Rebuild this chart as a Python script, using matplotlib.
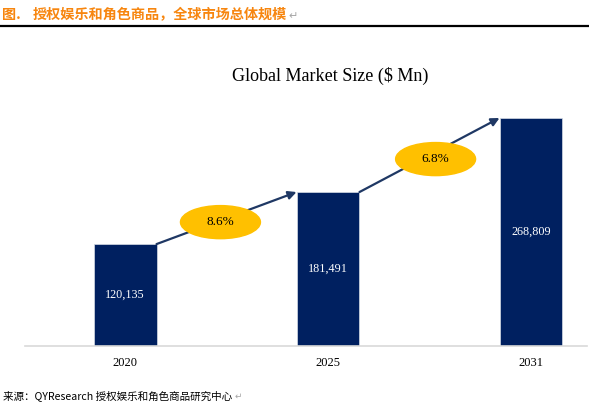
import matplotlib.pyplot as plt
from matplotlib.patches import Ellipse

plt.rcParams['font.family'] = ['Noto Sans CJK SC', 'DejaVu Sans']

years = ["2020", "2025", "2031"]
market_size = [120135, 181491, 268809]
cagr_labels = ["8.6%", "6.8%"]

header_no = "图."
header = "授权娱乐和角色商品，全球市场总体规模"
chart_title = "Global Market Size ($ Mn)"
source = "来源：QYResearch 授权娱乐和角色商品研究中心"

bar_color = "#002060"
arrow_color = "#1F3864"
bubble_color = "#FFC000"
header_color = "#F7860F"
serif = "Liberation Serif"

fig = plt.figure(figsize=(5.89, 4.04), dpi=100)
W, H = 589, 404

# header + rule
fig.text(2 / W, 1 - 15 / H, header_no, color=header_color, fontsize=10.2,
         fontweight="bold", va="center", ha="left")
fig.text(33 / W, 1 - 15 / H, header, color=header_color, fontsize=10.2,
         fontweight="bold", va="center", ha="left")
fig.text(288 / W, 1 - 16 / H, "\u21b5", color="#A6A6A6", fontsize=8,
         va="center", ha="left", family=["DejaVu Sans"])
fig.add_artist(plt.Line2D([0, 1], [1 - 26 / H, 1 - 26 / H], color="black", lw=1.6))

# chart title
fig.text(330 / W, 1 - 76 / H, chart_title, fontsize=13, family=serif,
         ha="center", va="center")

ax = fig.add_axes([25 / W, 1 - 346 / H, 562 / W, 246 / H])
x = list(range(len(years)))
width = 0.31
ax.bar(x, market_size, width=width, color=bar_color, edgecolor="#D6DCE5", lw=0.5, zorder=2)
ax.set_xlim(-0.493, 2.276)
ax.set_ylim(0, 290000)
ax.set_xticks(x)
ax.set_xticklabels(years, family=serif, fontsize=9)
ax.tick_params(axis="x", length=0, pad=8)
ax.set_yticks([])
for s in ["top", "left", "right"]:
    ax.spines[s].set_visible(False)
ax.spines["bottom"].set_color("#D9D9D9")
ax.spines["bottom"].set_linewidth(1.2)

for xi, v in zip(x, market_size):
    ax.text(xi, v / 2, f"{v:,}", color="white", family=serif, fontsize=8.7,
            ha="center", va="center", zorder=3)

# growth arrows with CAGR bubbles
for i, lab in enumerate(cagr_labels):
    x0, y0 = x[i] + width / 2, market_size[i]
    x1, y1 = x[i + 1] - width / 2, market_size[i + 1]
    ax.annotate("", xy=(x1, y1), xytext=(x0, y0),
                arrowprops=dict(arrowstyle="-|>", color=arrow_color, lw=1.6,
                                mutation_scale=12, shrinkA=0, shrinkB=0),
                zorder=3, annotation_clip=False)
    dx = -0.03 if i == 0 else 0.03
    cx, cy = (x0 + x1) / 2 + dx, (y0 + y1) / 2 - 4800
    ax.add_patch(Ellipse((cx, cy), 0.394, 39000, color=bubble_color, zorder=4))
    ax.text(cx, cy, lab, family=serif, fontsize=9.5, ha="center", va="center", zorder=5)

# source
src = fig.text(3 / W, 1 - 396 / H, source, fontsize=7.6, style="italic",
               va="center", ha="left")
fig.text(235 / W, 1 - 396 / H, "\u21b5", color="#A6A6A6", fontsize=6.5,
         va="center", ha="left", family=["DejaVu Sans"])

fig.savefig("out.png", dpi=100)
